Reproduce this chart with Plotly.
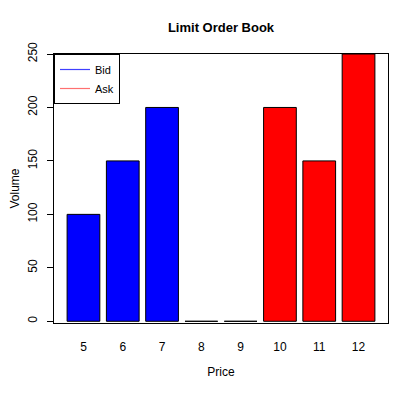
import plotly.graph_objects as go

prices = ["5", "6", "7", "8", "9", "10", "11", "12"]
volumes = [100, 150, 200, 0, 0, 200, 150, 250]
sides = ["Bid", "Bid", "Bid", "Bid", "Bid", "Ask", "Ask", "Ask"]
side_colors = {"Bid": "#0000FF", "Ask": "#FF0000"}
legend_colors = {"Bid": "#4040FF", "Ask": "#FF7070"}
y_ticks = [0, 50, 100, 150, 200, 250]

FONT = "Liberation Sans, Arial, Helvetica, sans-serif"

# the page body adds an 8px margin, so the figure is shrunk to fit the window
W, H = 407, 385

fig = go.Figure()
fig.add_trace(go.Bar(
    x=prices, y=volumes,
    marker=dict(color=[side_colors[s] for s in sides],
                line=dict(color="black", width=1)),
    width=0.833, showlegend=False, hoverinfo="x+y",
))
# legend entries
for s in ["Bid", "Ask"]:
    fig.add_trace(go.Scatter(x=[None], y=[None], mode="lines", name=s,
                             line=dict(color=legend_colors[s], width=1.2)))

fig.update_layout(
    width=W, height=H,
    margin=dict(l=46, r=27, t=46, b=70, autoexpand=False),
    paper_bgcolor="white", plot_bgcolor="white",
    font=dict(family=FONT, size=12, color="black"),
    title=dict(text="<b>Limit Order Book</b>", x=213 / W, xanchor="center",
               y=1 - 19 / H, yanchor="middle", font=dict(size=13)),
    showlegend=True,
    legend=dict(x=0, y=1, xanchor="left", yanchor="top",
                bordercolor="black", borderwidth=1, bgcolor="white",
                font=dict(size=11, color="black"), tracegroupgap=0,
                itemwidth=30),
    bargap=0.167,
)
fig.update_xaxes(
    type="category", range=[-0.75, 7.75], automargin=False,
    showline=True, mirror=True, linecolor="black", linewidth=1,
    ticks="outside", ticklen=13, tickcolor="rgba(0,0,0,0)",
    showgrid=False, zeroline=False,
    title=dict(text="Price", standoff=14, font=dict(size=12)),
)
fig.update_yaxes(
    range=[-1.6, 250], tickvals=y_ticks, tickangle=-90, automargin=False,
    showline=True, mirror=True, linecolor="black", linewidth=1,
    ticks="outside", ticklen=6, tickcolor="black",
    showgrid=False, zeroline=False, ticklabelstandoff=5,
    title=dict(text="Volume", standoff=4, font=dict(size=12)),
)

fig.write_html("out.html")
